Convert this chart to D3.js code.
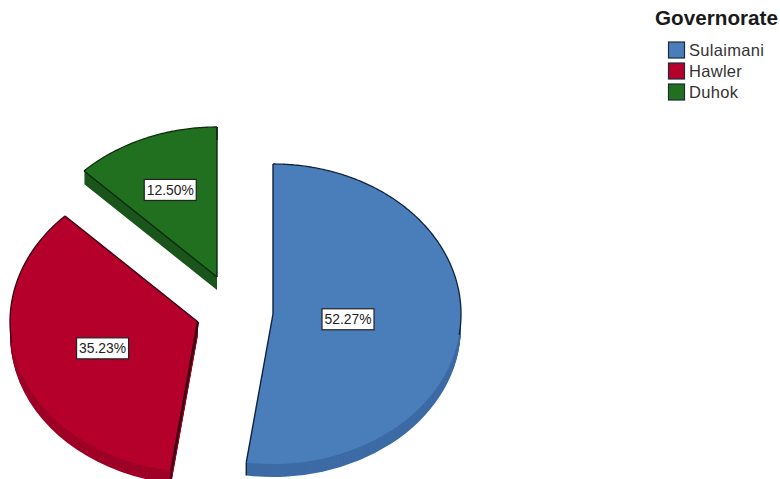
<!DOCTYPE html>
<html>
<head>
<meta charset="utf-8">
<script src="https://cdn.jsdelivr.net/npm/d3@7/dist/d3.min.js"></script>
<style>
  html, body { margin: 0; padding: 0; background: #fff; }
  svg { display: block; }
  text { font-family: "Liberation Sans", Arial, sans-serif; }
</style>
</head>
<body>
<div id="chart"></div>
<script>
// Share of respondents per governorate
const categories = ["Sulaimani", "Hawler", "Duhok"];
const percentages = [52.27, 35.23, 12.50];
const chartTitle = "Governorate";

// Colours: top face, side wall, outline
const faceColors = ["#4a7ebb", "#b5002c", "#207020"];
const sideColors = ["#3d6ba5", "#9e0027", "#1a551b"];
const edgeColors = ["#10233f", "#3a0010", "#0c2a0c"];

// Pie geometry: exploded slice centres, tilt and wall thickness
const radius = 188;
const tilt = 150 / 188;
const depth = 13;
const sliceCenters = [[273, 314], [198, 322], [217, 277]];

// Label placement along each slice's middle angle
const labelFractions = [0.40, 0.535, 0.65];
const labelNudgeY = [1, 1, 3];

// Rim is outlined only above the wall: below this cosine it goes unstroked
const rimCosLimit = -0.14;

const width = 780, height = 479;
const svg = d3.select("#chart").append("svg")
  .attr("width", width).attr("height", height)
  .attr("viewBox", [0, 0, width, height]);

const arcs = d3.pie().sort(null)(percentages);
const arc = d3.arc().innerRadius(0).outerRadius(radius);
const radial = d3.lineRadial().angle(p => p[0]).radius(p => p[1]);

// Angle stretches of a slice's rim that face upward
function upperRim(d) {
  const samples = d3.range(d.startAngle, d.endAngle, 0.01).concat([d.endAngle]);
  const runs = [];
  let run = null;
  samples.forEach(a => {
    if (Math.cos(a) >= rimCosLimit) {
      if (!run) runs.push(run = []);
      run.push([a, radius]);
    } else {
      run = null;
    }
  });
  return runs;
}

const slices = svg.selectAll("g.slice").data(arcs).join("g").attr("class", "slice");

slices.each(function (d, i) {
  const [cx, cy] = sliceCenters[i];
  const g = d3.select(this);
  const place = (dy = 0) => `translate(${cx},${cy + dy}) scale(1,${tilt})`;

  // Side wall: one copy per pixel of thickness, deepest first
  d3.range(depth, 0, -1).forEach(step => {
    g.append("path")
      .attr("d", arc(d))
      .attr("transform", place(step))
      .attr("fill", sideColors[i]);
  });

  // Top face
  g.append("path")
    .attr("d", arc(d))
    .attr("transform", place())
    .attr("fill", faceColors[i]);

  // Outline: upper rim and both straight cuts
  const outline = g.append("g")
    .attr("transform", place())
    .attr("fill", "none")
    .attr("stroke", edgeColors[i])
    .attr("stroke-linejoin", "round");
  upperRim(d).forEach(run => {
    outline.append("path")
      .attr("d", radial(run))
      .attr("stroke-width", 1.3)
      .attr("vector-effect", "non-scaling-stroke");
  });
  [d.startAngle, d.endAngle].forEach(a => {
    outline.append("path")
      .attr("d", radial([[a, 0], [a, radius]]))
      .attr("stroke-width", i === 1 && a === d.startAngle ? 2.4 : 1.4)
      .attr("vector-effect", "non-scaling-stroke");
  });

  // Short drop down the wall at the cut that faces the viewer
  const cut = i === 1 ? d.startAngle : d.endAngle;
  const rimX = cx + radius * Math.sin(cut);
  const rimY = cy - radius * tilt * Math.cos(cut);
  g.append("line")
    .attr("x1", rimX).attr("x2", rimX)
    .attr("y1", rimY).attr("y2", rimY + depth)
    .attr("stroke", edgeColors[i])
    .attr("stroke-width", 1.4);
});

// Percentage labels in white boxes
const fmt = d3.format(".2f");
slices.each(function (d, i) {
  const [cx, cy] = sliceCenters[i];
  const mid = (d.startAngle + d.endAngle) / 2;
  const f = labelFractions[i];
  const x = cx + radius * f * Math.sin(mid);
  const y = cy - radius * tilt * f * Math.cos(mid) + labelNudgeY[i];
  const g = d3.select(this).append("g").attr("transform", `translate(${x},${y})`);
  g.append("rect")
    .attr("x", -26).attr("y", -10.5).attr("width", 52).attr("height", 21)
    .attr("fill", "#fff").attr("stroke", "#222").attr("stroke-width", 1.2);
  g.append("text")
    .attr("text-anchor", "middle").attr("y", 5)
    .attr("font-size", 14).attr("fill", "#222")
    .attr("textLength", 47).attr("lengthAdjust", "spacingAndGlyphs")
    .text(fmt(d.data) + "%");
});

// Legend
svg.append("text")
  .attr("x", 655).attr("y", 25)
  .attr("font-size", 20).attr("font-weight", "bold").attr("fill", "#1a1a1a")
  .attr("textLength", 123).attr("lengthAdjust", "spacingAndGlyphs")
  .text(chartTitle);

const legendY = d3.scalePoint().domain(categories).range([50, 92]);
const legend = svg.selectAll("g.key").data(categories).join("g")
  .attr("class", "key")
  .attr("transform", d => `translate(668,${legendY(d)})`);
legend.append("rect")
  .attr("x", 0.5).attr("y", -8).attr("width", 16).attr("height", 16)
  .attr("fill", (d, i) => faceColors[i])
  .attr("stroke", "#1f2a3a").attr("stroke-width", 1.2);
legend.append("text")
  .attr("x", 21).attr("y", 6)
  .attr("font-size", 16.5).attr("fill", "#333")
  .attr("letter-spacing", 0.3)
  .text(d => d);
</script>
</body>
</html>
